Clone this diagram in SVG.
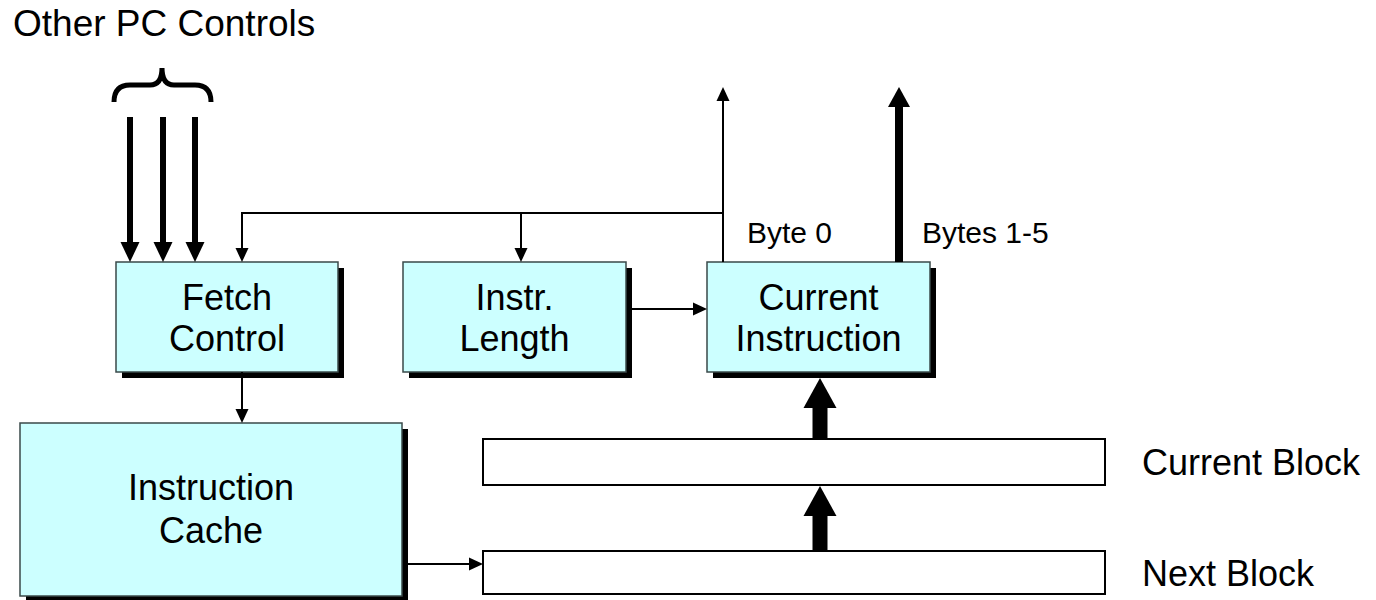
<svg xmlns="http://www.w3.org/2000/svg" width="1376" height="600" viewBox="0 0 1376 600">
<style>
  .t { font-family: "Liberation Sans", Arial, Helvetica, sans-serif; fill: #000; }
  .box { fill: #CCFFFF; stroke: #3a4a4a; stroke-width: 1.5; }
  .shadow { fill: #000; }
  .blk { fill: #fff; stroke: #000; stroke-width: 2; }
  .thin { fill: none; stroke: #000; stroke-width: 2; }
</style>
<defs>
  <marker id="hThin" markerUnits="userSpaceOnUse" markerWidth="14" markerHeight="13" refX="0" refY="6.5" orient="auto" overflow="visible">
    <path d="M0,0 L14,6.5 L0,13 Z" fill="#000"/>
  </marker>
  <marker id="hMid" markerUnits="userSpaceOnUse" markerWidth="20" markerHeight="19" refX="0" refY="9.5" orient="auto" overflow="visible">
    <path d="M0,0 L20,9.5 L0,19 Z" fill="#000"/>
  </marker>
  <marker id="hBytes" markerUnits="userSpaceOnUse" markerWidth="20" markerHeight="22" refX="0" refY="11" orient="auto" overflow="visible">
    <path d="M0,0 L20,11 L0,22 Z" fill="#000"/>
  </marker>
  <marker id="hBig" markerUnits="userSpaceOnUse" markerWidth="30" markerHeight="33" refX="0" refY="16.5" orient="auto" overflow="visible">
    <path d="M0,0 L30,16.5 L0,33 Z" fill="#000"/>
  </marker>
</defs>
<rect width="1376" height="600" fill="#fff"/>

<g id="label-other-pc">
  <text class="t" x="13" y="36" font-size="37">Other PC Controls</text>
  <path d="M114,102 Q114,85 130,85 L150,85 Q162,85 162,68 Q162,85 174,85 L195,85 Q211,85 211,102" fill="none" stroke="#000" stroke-width="5"/>
</g>

<g id="fetch-control">
  <rect class="shadow" x="122" y="268" width="222" height="110"/>
  <rect class="box" x="116" y="262" width="222" height="110"/>
  <text class="t" x="227" y="310" font-size="36" text-anchor="middle">Fetch</text>
  <text class="t" x="227" y="351" font-size="36" text-anchor="middle">Control</text>
</g>

<g id="instr-length">
  <rect class="shadow" x="409" y="268" width="223" height="110"/>
  <rect class="box" x="403" y="262" width="223" height="110"/>
  <text class="t" x="514.5" y="310" font-size="36" text-anchor="middle">Instr.</text>
  <text class="t" x="514.5" y="351" font-size="36" text-anchor="middle">Length</text>
</g>

<g id="current-instruction">
  <rect class="shadow" x="713" y="268" width="223" height="110"/>
  <rect class="box" x="707" y="262" width="223" height="110"/>
  <text class="t" x="818.5" y="310" font-size="36" text-anchor="middle">Current</text>
  <text class="t" x="818.5" y="351" font-size="36" text-anchor="middle">Instruction</text>
</g>

<g id="instruction-cache">
  <rect class="shadow" x="26" y="429" width="382" height="173"/>
  <rect class="box" x="20" y="423" width="382" height="173"/>
  <text class="t" x="211" y="500" font-size="36" text-anchor="middle">Instruction</text>
  <text class="t" x="211" y="543" font-size="36" text-anchor="middle">Cache</text>
</g>

<g id="current-block">
  <rect class="blk" x="483" y="439" width="622" height="46"/>
  <text class="t" x="1142" y="475" font-size="36">Current Block</text>
</g>

<g id="next-block">
  <rect class="blk" x="483" y="551" width="622" height="43"/>
  <text class="t" x="1142" y="586" font-size="36">Next Block</text>
</g>

<g id="connectors">
  <line x1="130" y1="117" x2="130" y2="242" stroke="#000" stroke-width="6" marker-end="url(#hMid)"/>
  <line x1="163" y1="117" x2="163" y2="242" stroke="#000" stroke-width="6" marker-end="url(#hMid)"/>
  <line x1="195" y1="117" x2="195" y2="242" stroke="#000" stroke-width="6" marker-end="url(#hMid)"/>
  <path class="thin" d="M723,213 H242 V248" marker-end="url(#hThin)"/>
  <path class="thin" d="M521,213 V248" marker-end="url(#hThin)"/>
  <path class="thin" d="M723,262 V101" marker-end="url(#hThin)"/>
  <line x1="899" y1="262" x2="899" y2="107" stroke="#000" stroke-width="8" marker-end="url(#hBytes)"/>
  <path class="thin" d="M242,372 V409" marker-end="url(#hThin)"/>
  <path class="thin" d="M632,309 H693" marker-end="url(#hThin)"/>
  <path class="thin" d="M408,564 H469" marker-end="url(#hThin)"/>
  <line x1="820" y1="438" x2="820" y2="408" stroke="#000" stroke-width="15" marker-end="url(#hBig)"/>
  <line x1="820" y1="550" x2="820" y2="516" stroke="#000" stroke-width="15" marker-end="url(#hBig)"/>
</g>

<g id="byte-labels">
  <text class="t" x="747" y="243" font-size="30">Byte 0</text>
  <text class="t" x="922" y="243" font-size="30">Bytes 1-5</text>
</g>
</svg>
